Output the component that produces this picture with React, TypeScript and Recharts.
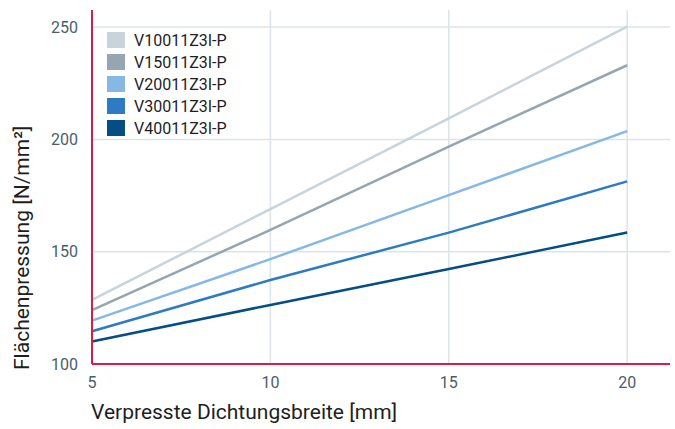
import { LineChart, Line, XAxis, YAxis, CartesianGrid, Label } from 'recharts';

const widths = [5, 10, 15, 20];
const v100 = [128.5, 169, 209.4, 250.2];
const v150 = [124, 159.7, 196.8, 233];
const v200 = [119.3, 146.7, 175.2, 203.7];
const v300 = [114.6, 137.4, 158.5, 181.3];
const v400 = [110, 126.3, 142.3, 158.5];

const seriesNames = ['V10011Z3I-P', 'V15011Z3I-P', 'V20011Z3I-P', 'V30011Z3I-P', 'V40011Z3I-P'];
const seriesColors = ['#c8d3da', '#97a5b0', '#86b8e5', '#2d7bc2', '#044e84'];
const seriesValues = [v100, v150, v200, v300, v400];

const xTicks = [5, 10, 15, 20];
const yTicks = [100, 150, 200, 250];

const data = widths.map((w, i) => {
  const row: Record<string, number> = { w };
  seriesNames.forEach((name, s) => {
    row[name] = seriesValues[s][i];
  });
  return row;
});

const FONT = 'Roboto, "Noto Sans", sans-serif';
const RED = '#d81e45';

const LegendBox = () => (
  <div style={{ position: 'absolute', left: 107, top: 29, fontFamily: FONT }}>
    {seriesNames.map((name, i) => (
      <div key={name} style={{ display: 'flex', alignItems: 'center', height: 22 }}>
        <div style={{ width: 18, height: 16, background: seriesColors[i], marginRight: 9 }} />
        <span style={{ fontSize: 16, color: '#1e1e1e' }}>{name}</span>
      </div>
    ))}
  </div>
);

export default function App() {
  return (
    <div style={{ position: 'absolute', left: 0, top: 0, width: 675, height: 429, background: '#fff' }}>
      <LineChart width={675} height={429} data={data} margin={{ top: 10, right: 5, bottom: 35, left: 0 }}>
        <CartesianGrid stroke="#dde4e9" strokeWidth={1.5} horizontalValues={[150, 200, 250]} verticalValues={[10, 15, 20]} />
        <XAxis
          dataKey="w"
          type="number"
          domain={[5, 21.2]}
          ticks={xTicks}
          height={30}
          axisLine={{ stroke: RED, strokeWidth: 2 }}
          tickLine={false}
          tickSize={0}
          tickMargin={13}
          tick={{ fill: '#4b5d6b', fontSize: 16, fontFamily: FONT }}
        >
          <Label
            content={() => (
              <text x={91} y={419} fontSize={21} fill="#1e1e1e" fontFamily={FONT}>
                Verpresste Dichtungsbreite [mm]
              </text>
            )}
          />
        </XAxis>
        <YAxis
          type="number"
          domain={[100, 257.6]}
          ticks={yTicks}
          width={92}
          axisLine={{ stroke: RED, strokeWidth: 2 }}
          tickLine={false}
          tickSize={0}
          tickMargin={14}
          tick={{ fill: '#4b5d6b', fontSize: 16, fontFamily: FONT }}
        >
          <Label
            content={() => (
              <text
                transform="translate(29, 370) rotate(-90)"
                textAnchor="start"
                fontSize={21}
                fill="#1e1e1e"
                fontFamily={FONT}
              >
                Flächenpressung [N/mm²]
              </text>
            )}
          />
        </YAxis>
        {seriesNames.map((name, i) => (
          <Line
            key={name}
            dataKey={name}
            stroke={seriesColors[i]}
            strokeWidth={2.5}
            dot={false}
            activeDot={false}
            isAnimationActive={false}
            type="linear"
          />
        ))}
      </LineChart>
      <LegendBox />
    </div>
  );
}
